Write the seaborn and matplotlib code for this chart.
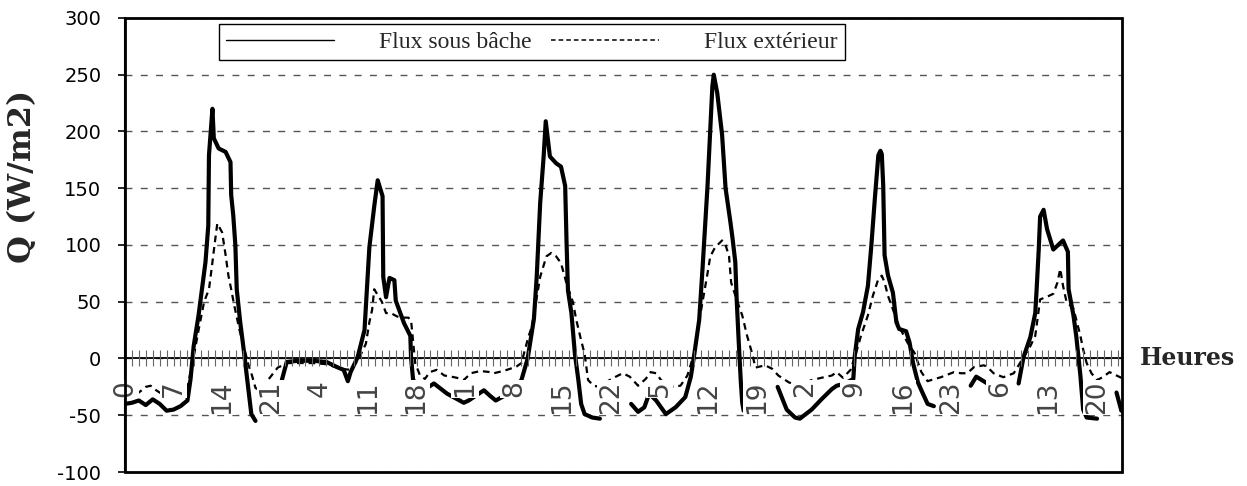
import numpy as np
import pandas as pd
import matplotlib
matplotlib.use('Agg')
import matplotlib.pyplot as plt
import matplotlib.transforms as mtransforms
import seaborn as sns
from matplotlib.lines import Line2D
from matplotlib.patches import Rectangle
from matplotlib.ticker import MultipleLocator, FixedLocator, FixedFormatter

nan = float('nan')

# Flux sous bâche (W/m2) -- time in hours from the start, nan = no record
t_sous = [0, 1, 2, 3, 4, 5, 6, 7, 8, 9, 9.45, 9.9, 10.6, 11.6, 12.0, 12.1, 12.6, 12.8,
          13.5, 14.5, 15.2, 15.3, 15.6, 15.9, 16.1, 16.6, 17.1, 17.6, 18.2, 18.8,
          20.5,
          22.6, 23.3, 25, 27, 29, 30.7, 31.5, 32.1, 32.5, 33.5, 34.5, 35.2, 35.9, 36.4,
          37.1, 37.2, 37.6, 38.1, 38.8, 39.0, 40.2, 41.1, 41.2, 41.5, 43.0, 44.5, 46.4,
          48.8, 49.5, 51.7, 52.6, 53.4, 55.5, 57.1, 58.0, 58.9, 59.3, 59.8, 60.3, 60.6,
          61.2, 62.1, 62.8, 63.4, 63.6, 63.8, 64.3, 64.8, 65.3, 65.7, 66.2, 67.3, 68.4,
          70.5,
          72.9, 73.9, 74.8, 75.5, 76.5, 77.9, 79.3, 80.7, 81.5, 82.0, 82.7, 83.2, 83.9,
          84.6, 84.8, 85.3, 86.0, 86.5, 87.2, 87.5, 87.9, 88.1, 88.4, 88.7, 88.9, 89.1,
          91.5,
          94.0, 95.3, 96.5, 97.2, 98.9, 100.3, 101.8, 102.5, 103.7, 104.9, 105.1, 105.6,
          106.3, 107.0, 107.5, 108.0, 108.5, 108.8, 109.0, 109.2, 109.4, 109.9, 110.6,
          111.1, 111.5, 112.5, 113.0, 113.5, 114.2, 114.7, 115.6, 116.5,
          119.0,
          121.8, 122.6, 123.4, 124.2,
          126.5,
          128.7, 129.4, 130.4, 131.1, 131.3, 131.6, 131.8, 132.3, 132.8, 133.7, 135.1,
          135.8, 135.9, 136.6, 137.0, 137.6, 138.0, 138.5, 140.0,
          141.5,
          142.8, 143.5]
q_sous = [-40, -39, -37, -41, -36, -40, -46, -45, -42, -37, -18, 11, 38, 85, 117, 179, 220, 194,
          185, 182, 173, 144, 126, 100, 61, 32, 8, -18, -49, -55,
          nan,
          -19, -3, -2, -2, -3, -8, -10, -20, -12, 1, 25, 98, 134, 157,
          143, 72, 54, 71, 69, 51, 31, 20, 1, -19, -28, -22, -31,
          -39, -37, -28, -33, -37, -30, -19, 0, 35, 72, 137, 178, 209,
          178, 172, 169, 152, 102, 60, 40, 4, -19, -40, -49, -52, -53,
          nan,
          -40, -47, -43, -31, -37, -49, -43, -34, -16, 4, 34, 81, 152,
          240, 250, 234, 197, 150, 120, 106, 85, 52, 14, -21, -39, -46,
          nan,
          -25, -45, -52, -53, -45, -36, -27, -24, -22, -18, 2, 26,
          41, 64, 100, 141, 179, 183, 180, 153, 91, 73, 58,
          32, 26, 24, 14, -4, -21, -28, -40, -42,
          nan,
          -24, -16, -19, -22,
          nan,
          -22, 1, 19, 40, 61, 96, 125, 131, 114, 96, 104,
          94, 61, 38, 20, -15, -45, -52, -53,
          nan,
          -30, -46]

# Flux extérieur (W/m2)
t_ext = [0, 1, 2, 3, 3.7, 4.5, 5, 6, 7, 8, 9, 9.5, 10, 10.6, 11.4, 12.1, 12.5, 12.9, 13.3,
         14.0, 14.5, 14.9, 15.3, 15.7, 16.5, 17.1, 17.8, 18.3, 18.8, 19.5, 20.6, 22, 23.5,
         25, 27, 29, 31, 32.5, 33.5, 34.0, 34.7, 35.2, 35.6, 35.9, 37.0, 37.6, 38.3, 39.2,
         40.0, 40.8, 41.2, 41.8, 42.5, 43.2, 43.9, 44.9, 46.0, 47.0, 47.8, 48.8, 49.8, 51.2,
         52.6, 53.1, 54.5, 55.5, 56.4, 57.1, 58.1, 58.6, 59.2, 59.8, 60.7, 61.4, 62.1, 62.8,
         63.6, 64.5, 65.0, 65.7, 66.2, 66.7, 67.5, 68.4, 69.5, 70.7, 71.7, 72.7, 73.9, 75.0,
         75.7, 76.5, 77.2, 78.5, 80.0, 81.0, 82.0, 82.9, 83.9, 84.3, 85.0, 86.0, 86.5, 87.0,
         87.3, 88.2, 88.9, 89.6, 90.3, 90.8, 92.2, 93.2, 94.1, 95.6, 96.9, 98.9, 100.3, 101.8,
         102.5, 103.4, 104.5, 105.3, 106.0, 107.0, 107.7, 108.5, 109.0, 109.4, 109.9, 110.5,
         111.5, 112.7, 113.7, 114.7, 115.6, 116.1, 117.5, 119.4, 120.4, 121.3, 122.3, 123.7,
         124.2, 125.1, 126.5, 128.0, 129.0, 130.4, 131.1, 131.8, 133.0, 133.7, 134.3, 134.7,
         135.1, 135.6, 136.6, 137.1, 137.6, 138.0, 138.5, 139.2, 140.0, 140.8, 141.8, 142.8,
         143.5]
q_ext = [-30, -32, -30, -25, -24, -28, -30, -33, -33, -31, -26, -10, 5, 25, 50, 61, 80, 100, 119,
         111, 91, 73, 61, 48, 25, 11, -6, -15, -26, -28, -19, -8, -4,
         -4, -4, -5, -9, -10, -2, 4, 13, 32, 43, 61, 50, 40, 40, 37,
         36, 36, 34, -4, -15, -18, -12, -10, -15, -16, -17, -19, -13, -11,
         -12, -13, -11, -9, -7, -4, 19, 28, 50, 72, 90, 93, 90, 84,
         66, 50, 34, 16, 4, -19, -24, -25, -20, -16, -13, -16, -24, -18,
         -12, -13, -19, -25, -24, -15, 5, 40, 75, 90, 98, 104, 100, 90,
         67, 50, 38, 20, 5, -8, -6, -9, -15, -21, -24, -19, -17, -15,
         -12, -17, -10, 5, 20, 38, 55, 70, 73, 67, 55, 45,
         28, 14, 5, -12, -20, -19, -16.5, -12, -13, -13, -7.5, -6,
         -7.5, -13, -16.5, -13, -3, 11, 20, 52, 55, 57, 67, 79,
         64, 50, 44, 32, 20, 8, -4, -13, -19, -16.5, -12, -15,
         -17]

tick_hours = [0, 7, 14, 21, 28, 35, 42, 49, 56, 63, 70, 77, 84, 91, 98, 105, 112,
              119, 126, 133, 140]
tick_labels = ['0', '7', '14', '21', '4', '11', '18', '1', '8', '15', '22', '5', '12',
               '19', '2', '9', '16', '23', '6', '13', '20']
y_ticks = [-100, -50, 0, 50, 100, 150, 200, 250, 300]


def to_frame(t, q):
    df = pd.DataFrame({'t': t, 'q': q})
    df['seg'] = df['q'].isna().cumsum()
    return df.dropna()


df_sous = to_frame(t_sous, q_sous)
df_ext = to_frame(t_ext, q_ext)

sns.set_theme(style='white')
plt.rcParams['font.family'] = ['DejaVu Sans']
plt.rcParams['axes.unicode_minus'] = False

fig = plt.figure(figsize=(12.47, 4.86), dpi=100)
ax = fig.add_axes([0.1002, 0.0288, 0.7996, 0.9342])

# exterior flux first (thin, dashed), then the covered flux on top
sns.lineplot(data=df_ext, x='t', y='q', units='seg', estimator=None, ax=ax,
             color='black', lw=1.6, zorder=2)
for ln in ax.lines:
    ln.set_dashes((3, 2.2))
n_ext = len(ax.lines)
sns.lineplot(data=df_sous, x='t', y='q', units='seg', estimator=None, ax=ax,
             color='black', lw=3.0, zorder=2.2)
for ln in ax.lines[n_ext:]:
    ln.set_solid_joinstyle('round')
    ln.set_solid_capstyle('round')

ax.set_xlim(0, 143.6)
ax.set_ylim(-100, 300)
ax.set_yticks(y_ticks)
ax.yaxis.grid(True, linestyle=(0, (5, 6)), color='#555555', lw=1)
ax.xaxis.grid(False)

# x axis crossing at Q = 0, ticks every hour
ax.spines['bottom'].set_position(('data', 0))
ax.spines['bottom'].set_color('black')
ax.spines['bottom'].set_linewidth(1.3)
ax.xaxis.set_major_locator(FixedLocator(tick_hours))
ax.xaxis.set_major_formatter(FixedFormatter(tick_labels))
ax.xaxis.set_minor_locator(MultipleLocator(1))
ax.tick_params(axis='x', which='both', direction='inout', length=11.5, width=0.8,
               color='#666666', bottom=True)
ax.tick_params(axis='x', which='major', labelsize=19, labelcolor='#444444',
               labelrotation=90, pad=10)
for lab in ax.get_xticklabels():
    lab.set_bbox(dict(facecolor='white', edgecolor='none', pad=0.5))
ax.xaxis.set_zorder(3)

ax.tick_params(axis='y', direction='out', length=5, width=1.2, color='black',
               labelsize=14, labelcolor='black', pad=12, left=True)

for side in ['top', 'right']:
    ax.spines[side].set_visible(False)
ax.spines['left'].set_color('black')
ax.spines['left'].set_linewidth(1.5)
ax.add_patch(Rectangle((0, 0), 1, 1, transform=ax.transAxes, fill=False,
                       edgecolor='black', lw=2, clip_on=False, zorder=4))

ax.set_xlabel('')
ax.set_ylabel('Q (W/m2)', family='DejaVu Serif', fontweight='bold', fontsize=23)
ax.yaxis.set_label_coords(-0.087, 0.65)

trans = mtransforms.blended_transform_factory(ax.transAxes, ax.transData)
ax.text(1.018, 0, 'Heures', transform=trans, ha='left', va='center',
        family='DejaVu Serif', fontweight='bold', fontsize=17)

handles = [Line2D([0], [0], color='black', lw=1),
           Line2D([0], [0], color='black', lw=1.1, linestyle=(0, (3, 2)))]
leg = ax.legend(handles, ['Flux sous bâche', 'Flux extérieur'], ncol=2, loc='center',
                bbox_to_anchor=(0.408, 0.947), frameon=True, fancybox=False,
                edgecolor='black', framealpha=1,
                prop={'family': 'Liberation Serif', 'size': 17},
                handlelength=4.6, handletextpad=1.9, columnspacing=0.8,
                borderpad=0.3)
leg.get_frame().set_linewidth(1)

fig.savefig('out.png', dpi=100)
